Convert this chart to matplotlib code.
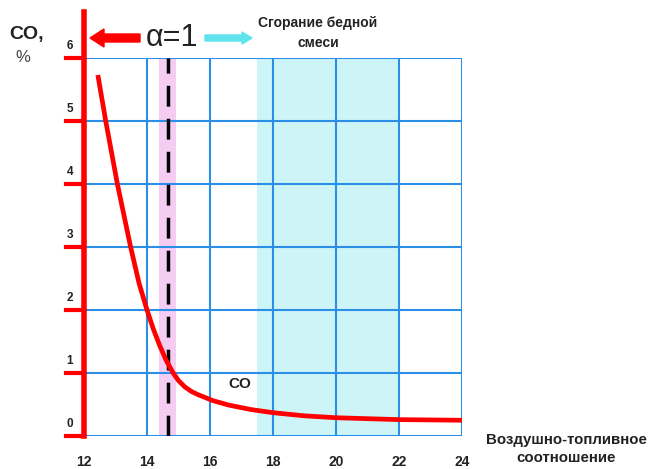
import numpy as np
import matplotlib.pyplot as plt
from matplotlib.patches import FancyArrow

# data
afr = [12.44, 12.69, 13.06, 13.48, 13.75, 14.0, 14.2, 14.4, 14.6, 14.83, 15.0, 15.2,
       15.4, 15.6, 16.1, 16.6, 17.3, 18.0, 19.0, 20.0, 22.0, 24.0]
co = [5.73, 5.0, 4.0, 3.0, 2.42, 2.0, 1.70, 1.44, 1.21, 1.0, 0.88, 0.78,
      0.71, 0.66, 0.56, 0.49, 0.42, 0.37, 0.32, 0.29, 0.26, 0.25]
x_ticks = [12, 14, 16, 18, 20, 22, 24]
y_ticks = [0, 1, 2, 3, 4, 5, 6]
stoich = 14.67
stoich_band = (14.38, 14.92)
lean_band = (17.5, 22.0)

fig = plt.figure(figsize=(6.56, 4.69), dpi=100)
ax = fig.add_axes([84 / 656, 33 / 469, 378 / 656, 378 / 469])
ax.set_xlim(12, 24)
ax.set_ylim(0, 6)

grid_blue = '#2b8fe8'
ax.axvspan(*lean_band, color='#cdf4f7', zorder=0, lw=0)
ax.axvspan(*stoich_band, color='#f6cdf2', zorder=0, lw=0)

for x in x_ticks[1:]:
    ax.axvline(x, color=grid_blue, lw=1.5, zorder=1)
for y in y_ticks:
    ax.axhline(y, color=grid_blue, lw=1.5, zorder=1)

ax.axvline(stoich, color='black', lw=2.5, dashes=(6, 3.5), zorder=2)
ax.plot(afr, co, color='red', lw=3.4, solid_capstyle='butt',
        solid_joinstyle='round', zorder=3)

for s in ax.spines.values():
    s.set_visible(False)
ax.set_xticks([])
ax.set_yticks([])

# red y axis with ticks sticking out to the left
ax.plot([12, 12], [0, 6.73], color='red', lw=4, clip_on=False, zorder=4)
for y in y_ticks:
    ax.plot([11.43, 12], [y, y], color='red', lw=3, clip_on=False, zorder=4)
    ax.text(11.55, y + 0.1, str(y), fontsize=8.5, fontweight='bold', ha='center',
            va='bottom', color='#222222', family='Liberation Sans')

for x in x_ticks:
    ax.text(x, -0.42, str(x), fontsize=10, fontweight='bold', ha='center',
            va='center', color='#222222', family='Liberation Sans')

ax.text(16.95, 0.82, 'CO', fontsize=11, fontweight='bold', ha='center',
        va='center', color='#222222', family='Liberation Sans')

# labels and arrows above the chart
fig.text(27 / 656, 1 - 35 / 469, 'CO,', fontsize=14, fontweight='bold', ha='center',
         va='center', color='#222222', family='Liberation Sans')
fig.text(23 / 656, 1 - 57 / 469, '%', fontsize=12, ha='center',
         va='center', color='#444444', family='Liberation Sans')
fig.text(172 / 656, 1 - 38 / 469, 'α=1', fontsize=22, ha='center',
         va='center', color='#222222', family='Liberation Sans')
fig.text(318 / 656, 1 - 33 / 469, 'Сгорание бедной\nсмеси', fontsize=10,
         fontweight='bold', ha='center', va='center', color='#222222',
         family='Liberation Sans', linespacing=1.55)
fig.text(566 / 656, 1 - 449 / 469, 'Воздушно-топливное\nсоотношение', fontsize=10.8,
         fontweight='bold', ha='center', va='center', color='#222222',
         family='Liberation Sans', linespacing=1.4)

fig.add_artist(FancyArrow(140 / 656, 1 - 38 / 469, -50 / 656, 0, width=8 / 469,
                          head_width=18 / 469, head_length=14 / 656,
                          length_includes_head=True, color='red',
                          transform=fig.transFigure))
fig.add_artist(FancyArrow(205 / 656, 1 - 38 / 469, 47 / 656, 0, width=6 / 469,
                          head_width=12 / 469, head_length=10 / 656,
                          length_includes_head=True, color='#5fe3ec',
                          transform=fig.transFigure))

fig.savefig('out.png', dpi=100)
